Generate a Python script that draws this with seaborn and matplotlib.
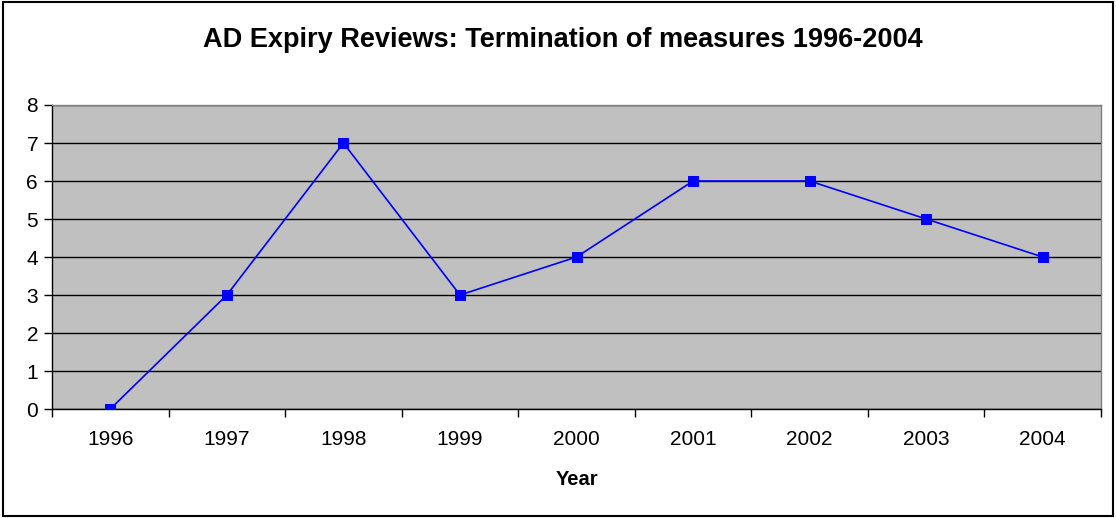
import matplotlib
matplotlib.use("Agg")
import matplotlib.pyplot as plt
import seaborn as sns
import pandas as pd
from matplotlib.patches import Rectangle

# data
years = ["1996", "1997", "1998", "1999", "2000", "2001", "2002", "2003", "2004"]
terminations = [0, 3, 7, 3, 4, 6, 6, 5, 4]

sns.set_style("white")
plt.rcParams['font.family'] = ['Liberation Sans', 'DejaVu Sans']
plt.rcParams['text.color'] = 'black'
plt.rcParams['xtick.color'] = 'black'
plt.rcParams['ytick.color'] = 'black'
plt.rcParams['axes.labelcolor'] = 'black'

df = pd.DataFrame({"pos": range(len(years)), "value": terminations})

fig = plt.figure(figsize=(11.16, 5.18), dpi=100)
ax = fig.add_axes([0.0466, 0.2104, 0.9400, 0.5869])
ax.set_facecolor("#c0c0c0")

sns.lineplot(data=df, x="pos", y="value", ax=ax, color="#0000ff", linewidth=1.2,
             marker="s", markersize=7.5, markeredgecolor="#0000ff", zorder=5)

ax.set_xlim(-0.5, len(years) - 0.5)
ax.set_ylim(0, 8)
ax.set_yticks(range(0, 9))
ax.yaxis.grid(True, color="black", linewidth=1)
ax.set_axisbelow(True)

# category labels centered, tick marks between categories
ax.set_xticks(range(len(years)))
ax.set_xticklabels(years)
ax.set_xticks([i - 0.5 for i in range(len(years) + 1)], minor=True)
ax.tick_params(axis="x", which="major", bottom=True, length=0, labelsize=15, pad=15)
ax.tick_params(axis="x", which="minor", bottom=True, length=6, width=1, color="black", direction="out")
ax.tick_params(axis="y", left=True, length=6, width=1, color="black", direction="out", labelsize=15, pad=4)

for side in ["left", "bottom"]:
    ax.spines[side].set_color("black")
    ax.spines[side].set_linewidth(1)
for side in ["top", "right"]:
    ax.spines[side].set_color("#808080")
    ax.spines[side].set_linewidth(1)

ax.set_xlabel("Year", fontsize=14.5, fontweight="bold", labelpad=15)
ax.set_ylabel("")

fig.text(0.504, 0.922, "AD Expiry Reviews: Termination of measures 1996-2004",
         ha="center", va="center", fontsize=19.5, fontweight="bold")

# outer frame around the chart
fig.patches.append(Rectangle((0.003, 0.004), 0.994, 0.992, transform=fig.transFigure,
                             fill=False, edgecolor="black", linewidth=1.5))

plt.savefig("out.png", dpi=100)
plt.close()
